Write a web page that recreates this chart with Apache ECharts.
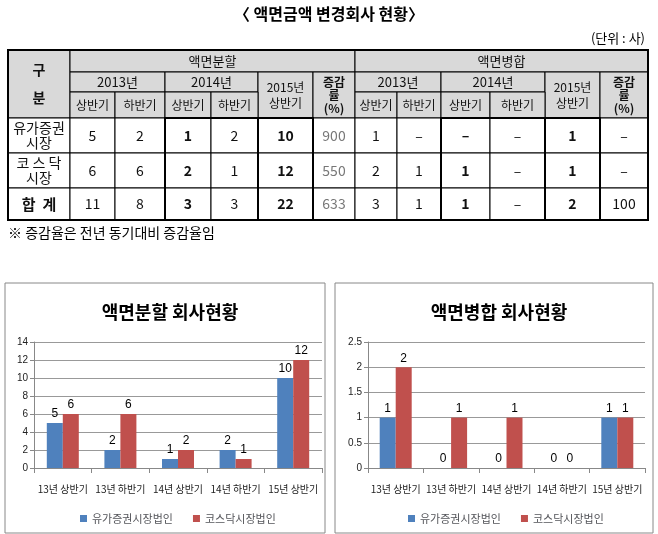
<!DOCTYPE html>
<html><head><meta charset="utf-8">
<script src="https://cdn.jsdelivr.net/npm/echarts@6/dist/echarts.min.js"></script>
<style>html,body{margin:0;padding:0;background:#fff}#c{width:658px;height:534px}</style>
</head><body><div id="c"></div>
<script>
const categories = ['13년 상반기','13년 하반기','14년 상반기','14년 하반기','15년 상반기'];
const splitKospi = [5,2,1,2,10];
const splitKosdaq = [6,6,2,1,12];
const mergeKospi = [1,0,0,0,1];
const mergeKosdaq = [2,1,1,0,1];
const legendNames = ['유가증권시장법인','코스닥시장법인'];
const rowLabels = ['유가증권\n시장','코 스 닥\n시장','합  계'];
const tableSplit = [['5','2','1','2','10','900'],['6','6','2','1','12','550'],['11','8','3','3','22','633']];
const tableMerge = [['1','–','–','–','1','–'],['2','1','1','–','1','–'],['3','1','1','–','2','100']];

const F = '"Noto Sans CJK KR", sans-serif';
const xs = [8,70,115,165,211,258,313,355,397,441,490,545,600,648];
const ys = [50,72,92,118,153,188,220];
const g = [];
function cell(c0,c1,r0,r1,txt,opt){
  opt=opt||{};
  const x=xs[c0],y=ys[r0],w=xs[c1]-x,h=ys[r1]-y;
  g.push({type:'rect',shape:{x:x,y:y,width:w,height:h},style:{fill:opt.bg||'#fff',stroke:'#000',lineWidth:1},z:1});
  g.push({type:'text',x:x+w/2,y:y+h/2,style:{text:txt,font:(opt.bold?'bold ':'')+(opt.size||13)+'px '+F,fill:opt.color||'#111',align:'center',verticalAlign:'middle',lineHeight:opt.lh||14},z:2});
}
const HB='#d9d9d9';
cell(0,1,0,3,'구\n\n분',{bg:HB,bold:true,size:14});
cell(1,7,0,1,'액면분할',{bg:HB,size:13});
cell(7,13,0,1,'액면병합',{bg:HB,size:13});
[1,7].forEach(b=>{
  cell(b,b+2,1,2,'2013년',{bg:HB});
  cell(b+2,b+4,1,2,'2014년',{bg:HB});
  cell(b+4,b+5,1,3,'2015년\n상반기',{bg:HB,size:12,lh:16});
  cell(b+5,b+6,1,3,'증감\n률\n(%)',{bg:HB,size:12,bold:true,lh:13});
  for(let i=0;i<4;i++) cell(b+i,b+i+1,2,3,i%2?'하반기':'상반기',{bg:HB,size:12});
});
rowLabels.forEach((l,r)=>{
  cell(0,1,3+r,4+r,l,{size:r==2?15:14,bold:r==2,lh:15});
  tableSplit[r].forEach((v,i)=>cell(1+i,2+i,3+r,4+r,v,{size:14,bold:i==2||i==4,color:i==5?'#777':'#111'}));
  tableMerge[r].forEach((v,i)=>cell(7+i,8+i,3+r,4+r,v,{size:14,bold:i==2||i==4}));
});
[[0,13,0,6],[3,5,3,6],[5,6,3,6],[9,11,3,6],[11,12,3,6]].forEach(a=>{
  g.push({type:'rect',shape:{x:xs[a[0]],y:ys[a[2]],width:xs[a[1]]-xs[a[0]],height:ys[a[3]]-ys[a[2]]},style:{fill:null,stroke:'#000',lineWidth:2},z:3});
});
g.push({type:'text',x:329,y:14,style:{text:'〈 액면금액 변경회사 현황〉',font:'bold 16px '+F,fill:'#000',align:'center',verticalAlign:'middle'}});
g.push({type:'text',x:645,y:38,style:{text:'(단위 : 사)',font:'13px '+F,fill:'#000',align:'right',verticalAlign:'middle'}});
g.push({type:'text',x:8,y:233,style:{text:'※ 증감율은 전년 동기대비 증감율임',font:'14px '+F,fill:'#000',align:'left',verticalAlign:'middle'}});
g.push({type:'rect',shape:{x:5,y:283,width:320,height:250},style:{fill:null,stroke:'#888',lineWidth:1}});
g.push({type:'rect',shape:{x:335,y:283,width:318,height:250},style:{fill:null,stroke:'#888',lineWidth:1}});

const chart = echarts.init(document.getElementById('c'));
function xAx(i){return {type:'category',gridIndex:i,data:categories,axisTick:{show:true,length:5,lineStyle:{color:'#888'}},axisLine:{lineStyle:{color:'#888'}},axisLabel:{interval:0,fontSize:10,color:'#222',fontFamily:F,margin:16}};}
function yAx(i,max,iv){return {type:'value',gridIndex:i,min:0,max:max,interval:iv,axisLine:{show:true,lineStyle:{color:'#888'}},axisTick:{show:true,length:4,lineStyle:{color:'#888'}},splitLine:{lineStyle:{color:'#999'}},axisLabel:{fontSize:10,color:'#222',margin:6}};}
function bar(name,data,i,color){return {name:name,type:'bar',xAxisIndex:i,yAxisIndex:i,data:data,barWidth:16,barGap:'0%',itemStyle:{color:color},label:{show:true,position:'top',fontSize:12,color:'#000',distance:3}};}
chart.setOption({
  animation:false,
  title:[{text:'액면분할 회사현황',left:165,top:298,textAlign:'center',textStyle:{fontSize:18,fontWeight:'bold',fontFamily:F,color:'#000'}},
         {text:'액면병합 회사현황',left:494,top:298,textAlign:'center',textStyle:{fontSize:18,fontWeight:'bold',fontFamily:F,color:'#000'}}],
  legend:[{data:legendNames,left:75,top:508,itemWidth:7,itemHeight:7,icon:'rect',itemGap:20,textStyle:{fontSize:11,fontFamily:F}},
          {data:legendNames,left:403,top:508,itemWidth:7,itemHeight:7,icon:'rect',itemGap:20,textStyle:{fontSize:11,fontFamily:F}}],
  grid:[{left:34,top:342,width:288,height:126},{left:368,top:342,width:277,height:126}],
  xAxis:[xAx(0),xAx(1)],
  yAxis:[yAx(0,14,2),yAx(1,2.5,0.5)],
  series:[bar(legendNames[0],splitKospi,0,'#4f81bd'),bar(legendNames[1],splitKosdaq,0,'#c0504d'),
          bar(legendNames[0],mergeKospi,1,'#4f81bd'),bar(legendNames[1],mergeKosdaq,1,'#c0504d')],
  graphic:g
});
</script></body></html>
